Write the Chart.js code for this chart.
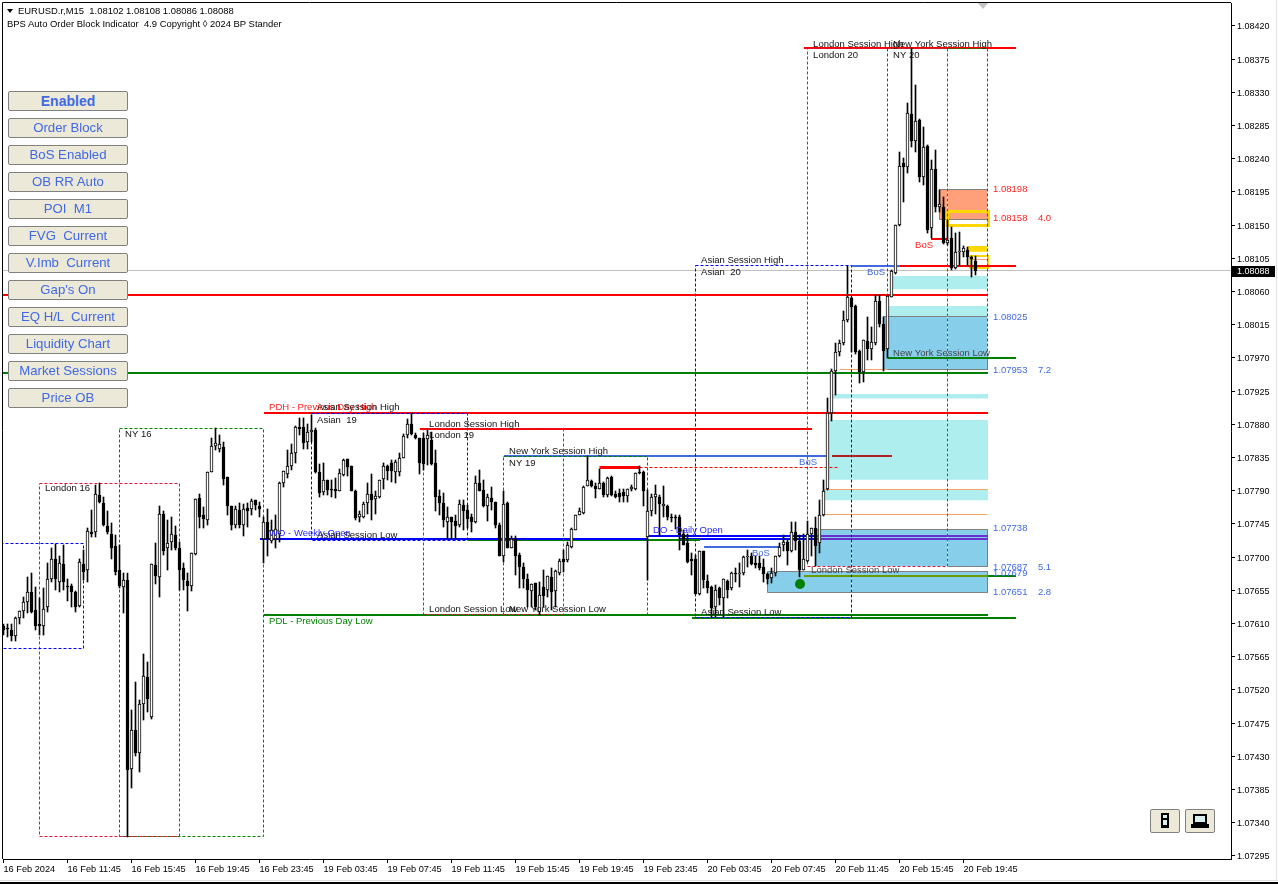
<!DOCTYPE html>
<html>
<head>
<meta charset="utf-8">
<title>EURUSD.r,M15</title>
<script src="https://cdn.jsdelivr.net/npm/chart.js@4"></script>
<style>
  html, body { margin: 0; padding: 0; background: #fff; overflow: hidden; }
  #wrap { position: relative; width: 1278px; height: 884px; font-family: "Liberation Sans", Arial, sans-serif; }
  #mt4 { position: absolute; left: 0; top: 0; display: block; }
  .head { position: absolute; left: 7px; font-size: 9.45px; line-height: 12px; color: #000; white-space: pre; }
  .btn { position: absolute; left: 8px; width: 118px; height: 18px; line-height: 18px; background: #ece9d8; border: 1px solid #808080;
         border-radius: 2px; text-align: center; color: #4169e1; font-size: 13.2px; white-space: pre; }
  .tool { position: absolute; top: 809px; width: 28px; height: 22px; background: #ece9d8; border: 1px solid #808080; border-radius: 2px; }
  .tool div { position: absolute; background: #000; }
  .tool div.w { background: #d8f0f0; }
</style>
</head>
<body>
<div id="wrap">
  <canvas id="mt4" width="1278" height="884"></canvas>
  <div class="head" style="top:5px;left:18px">EURUSD.r,M15  1.08102 1.08108 1.08086 1.08088</div>
  <div style="position:absolute;left:7px;top:9px;border-left:3px solid transparent;border-right:3px solid transparent;border-top:4px solid #000"></div>
  <div class="head" style="top:18px">BPS Auto Order Block Indicator  4.9 Copyright ◊ 2024 BP Stander</div>
  <div style="position:absolute;left:978px;top:3px;border-left:5px solid transparent;border-right:5px solid transparent;border-top:6px solid #c4c4c4"></div>
  <div id="buttons"></div>
  <div class="tool" style="left:1150px">
    <div style="left:10px;top:3px;width:8px;height:15px"></div>
    <div class="w" style="left:12px;top:5px;width:4px;height:3px"></div>
    <div class="w" style="left:12px;top:10px;width:4px;height:5px"></div>
  </div>
  <div class="tool" style="left:1185px">
    <div style="left:7px;top:4px;width:14px;height:10px"></div>
    <div class="w" style="left:9px;top:6px;width:10px;height:6px"></div>
    <div style="left:5px;top:14px;width:18px;height:4px"></div>
  </div>
  <div style="position:absolute;left:0;top:880px;width:1278px;height:1px;background:#e2e2e2"></div>
  <div style="position:absolute;left:0;top:882px;width:1278px;height:2px;background:#000"></div>
  <div style="position:absolute;left:1276px;top:0;width:1px;height:881px;background:#e2e2e2"></div>
</div>

<script>
// prices are in points (1 point = 0.00001), stored above 1.07000
const base = 107000;
const opens = [
  607,604,601,593,617,627,639,653,629,609, 607,632,671,697,667,691,661,661,653,634,
  691,682,734,734,784,774,742,732,715,682, 659,669,413,466,434,501,537,483,690,673,
  758,712,720,730,713,685,668,661,704,780, 757,751,816,851,846,849,808,770,743,764,
  744,766,765,777,770,724,747,722,724,732, 800,813,823,841,877,876,856,869,872,815,
  788,805,793,793,790,811,833,823,790,754, 754,773,786,779,781,806,823,828,816,816,
  835,865,881,866,861,862,860,859,827,783, 774,748,755,749,743,771,764,755,748,800,
  791,769,780,775,743,701,774,713,724,703, 686,671,654,665,626,660,656,673,654,678,
  698,696,714,737,757,760,796,803,796,793, 800,784,808,786,787,788,783,792,793,816,
  816,728,763,782,782,769,769,755,755,755, 732,719,697,697,650,708,668,659,632,658,
  645,668,658,679,677,678,700,701,692,692, 686,677,672,679,701,717,721,709,734,722,
  682,695,731,739,719,757,792,895,952,978, 990,1021,1051,1040,979,951,993,982,990,1047,
  1016,982,1053,1085,1150,1234,1229,1300,1264,1292, 1215,1257,1146,1226,1174,1174,1126,1132,1092,1113,
  1113,1117,1107,1102
].map(v => base + v);
const highs = [
  610,609,610,619,627,646,673,679,660,644, 658,692,712,718,701,716,671,664,654,697,
  710,739,764,798,800,782,762,746,730,716, 679,679,493,531,506,569,558,691,719,770,
  762,750,754,742,721,692,678,705,779,786, 768,816,861,875,866,856,809,770,769,773,
  772,773,779,778,775,754,765,750,757,802, 817,845,854,878,889,888,880,893,875,826,
  827,805,805,807,820,833,833,823,791,762, 775,800,813,789,804,828,825,832,832,841,
  867,887,895,868,862,868,872,870,845,791, 787,768,755,757,777,777,771,759,810,818,
  805,786,795,775,746,790,775,729,729,705, 692,677,664,665,667,682,674,685,682,697,
  710,721,739,757,766,796,837,805,800,820, 802,809,810,789,793,793,793,798,814,823,
  817,791,786,798,784,796,771,759,757,757, 737,732,705,703,709,709,676,661,662,660,
  671,669,680,685,692,701,710,705,701,701, 698,679,685,701,719,730,723,748,748,730,
  731,749,739,754,777,804,916,955,990,994, 1034,1094,1052,1042,981,994,1025,1012,1055,1055,
  1025,1056,1089,1150,1249,1241,1315,1390,1340,1294, 1283,1259,1238,1252,1197,1188,1157,1147,1139,1141,
  1122,1120,1108,1108
].map(v => base + v);
const lows = [
  594,592,587,587,609,617,624,624,601,594, 594,626,667,655,653,655,640,633,626,632,
  669,667,728,728,773,742,732,697,676,658, 624,321,387,430,409,479,490,480,664,646,
  703,682,710,710,655,655,627,654,703,739, 739,743,816,845,843,798,757,737,739,739,
  729,741,757,764,755,692,701,719,712,720, 795,807,818,827,866,847,847,856,814,782,
  784,784,782,780,789,810,810,789,750,747, 753,759,750,759,780,793,805,802,800,810,
  835,861,866,860,813,818,825,825,762,757, 741,725,724,724,741,737,739,734,746,789,
  768,749,764,739,701,694,712,713,676,658, 658,633,633,629,621,633,646,628,633,676,
  680,694,713,737,757,759,796,795,780,792, 782,782,783,780,775,775,775,789,791,813,
  769,669,756,759,729,755,750,748,738,710, 716,692,676,650,649,658,651,619,619,635,
  619,645,655,667,659,676,687,689,685,682, 667,664,665,674,700,709,689,707,710,673,
  682,694,701,688,706,756,791,884,920,972, 987,1019,978,975,936,937,967,967,988,1012,
  953,970,1052,1084,1149,1181,1221,1256,1249,1208, 1204,1139,1132,1168,1168,1124,1123,1089,1091,1094,
  1107,1094,1080,1082
].map(v => base + v);
const closes = [
  601,602,593,618,627,639,653,626,607,607, 630,671,698,671,692,667,659,653,633,693,
  680,735,731,785,775,743,734,713,680,661, 669,412,466,434,501,539,508,691,675,758,
  709,719,731,712,683,669,661,705,779,755, 752,815,851,855,854,806,770,743,765,743,
  765,763,776,771,765,747,724,737,738,801, 817,823,841,876,874,855,869,873,815,787,
  805,791,792,790,814,832,822,790,753,758, 772,786,778,783,804,823,817,817,829,835,
  864,881,867,861,827,826,866,826,782,773, 750,755,748,742,772,763,752,747,800,789,
  769,782,775,743,701,772,712,724,701,686, 670,655,664,633,649,647,674,653,681,695,
  694,716,738,757,762,795,804,796,792,800, 784,807,784,782,782,783,793,795,814,814,
  790,762,781,785,772,772,754,754,753,730, 716,694,695,650,708,669,658,631,656,645,
  670,656,678,677,679,700,701,691,689,685, 677,670,679,701,714,720,709,734,722,682,
  697,731,739,715,757,790,895,952,978,990, 1021,1052,1039,978,951,994,982,991,1047,1016,
  979,1054,1088,1150,1230,1229,1302,1264,1291,1215, 1256,1143,1226,1174,1178,1126,1130,1092,1113,1115,
  1119,1107,1104,1088
].map(v => base + v);

const yTickLabels = ["1.08420","1.08375","1.08330","1.08285","1.08240","1.08195","1.08150","1.08105","1.08060","1.08015",
  "1.07970","1.07925","1.07880","1.07835","1.07790","1.07745","1.07700","1.07655","1.07610","1.07565",
  "1.07520","1.07475","1.07430","1.07385","1.07340","1.07295"];
const xTickBars = [0,16,32,48,64,80,96,112,128,144,160,176,192,208,224,240];
const xTickLabels = ["16 Feb 2024","16 Feb 11:45","16 Feb 15:45","16 Feb 19:45","16 Feb 23:45","19 Feb 03:45","19 Feb 07:45","19 Feb 11:45",
  "19 Feb 15:45","19 Feb 19:45","19 Feb 23:45","20 Feb 03:45","20 Feb 07:45","20 Feb 11:45","20 Feb 15:45","20 Feb 19:45"];
const lastPrice = 108088;
const buttonNames = ["Enabled","Order Block","BoS Enabled","OB RR Auto","POI  M1","FVG  Current","V.Imb  Current","Gap's On","EQ H/L  Current","Liquidity Chart","Market Sessions","Price OB"];

// session boxes: first bar, last bar, low, high, colour
const sessions = [
  [-2, 20, 107576, 107718, "#0000ff"],
  [9, 44, 107321, 107800, "#dc143c"],
  [29, 65, 107321, 107875, "#008000"],
  [77, 116, 107723, 107895, "#0000ff"],
  [105, 140, 107622, 107874, "#dc143c"],
  [125, 161, 107622, 107837, "#008000"],
  [173, 212, 107618, 108095, "#0000ff"],
  [201, 236, 107688, 108390, "#dc143c"],
  [221, 246, 107970, 108390, "#008000"]
];
// levels: first bar, last bar, price, colour, width, dashed
const levels = [
  [-2, 246, 108055, "#ff0000", 2, false],
  [-2, 246, 107950, "#008000", 2, false],
  [65, 246, 107895, "#ff0000", 2, false],
  [65, 246, 107622, "#008000", 2, false],
  [172, 253, 107618, "#008000", 2, false],
  [104, 202, 107874, "#ff0000", 2, false],
  [125, 206, 107837, "#4169e1", 2, false],
  [207, 222, 107837, "#b22222", 2, false],
  [149, 159, 107821, "#ff0000", 3, false],
  [159, 209, 107821, "#ff0000", 1, true],
  [64, 161, 107725, "#0000ff", 2, false],
  [116, 174, 107723, "#008000", 2, false],
  [161, 203, 107729, "#0000ff", 2, false],
  [169, 203, 107725, "#0000ff", 2, false],
  [203, 246, 107729, "#6a2fd0", 2, false],
  [203, 246, 107725, "#6a2fd0", 2, false],
  [205, 246, 107792, "#f4a460", 1, false],
  [205, 246, 107758, "#f4a460", 1, false],
  [209, 221, 107954, "#f4a460", 1, false],
  [221, 253, 107970, "#008000", 2, false],
  [212, 224, 108095, "#4169e1", 2, false],
  [224, 253, 108095, "#ff0000", 2, false],
  [200, 253, 108390, "#ff0000", 2, false],
  [232, 236, 108131, "#ff0000", 2, false],
  [175, 194, 107714, "#4169e1", 2, false],
  [200, 246, 107675, "#6b9b00", 2, false],
  [246, 253, 107675, "#008000", 2, false],
  [242, 246, 108104, "#ffa07a", 1, false],
  [-2, 308, lastPrice, "#c0c0c0", 1, false]
];
// zones: first bar, last bar, low, high, colour, outlined
const zones = [
  [222.4, 246, 108063, 108081, "#afeeee", false],
  [221, 246, 108026, 108040, "#afeeee", false],
  [207.4, 246, 107915, 107921, "#afeeee", false],
  [206.4, 246, 107805, 107886, "#afeeee", false],
  [205, 246, 107777, 107792, "#afeeee", false],
  [220, 246, 107954, 108026, "#87ceeb", true],
  [203, 246, 107688, 107738, "#87ceeb", true],
  [191, 246, 107652, 107680, "#87ceeb", true],
  [234, 246, 108158, 108199, "#ffa07a", true],
  [241, 246, 108114, 108122, "#ffd700", false]
];
// yellow frames: first bar, last bar, low, high, width
const frames = [
  [236, 246.2, 108150, 108169, 3],
  [241.5, 246.2, 108092, 108108, 2]
];
const entryBar = 199;
const entryPrice = 107664;
// chart texts: bar, price, text, colour
const notes = [
  [202.4, 108397, "London Session High", "#111"],
  [222.4, 108397, "New York Session High", "#111"],
  [202.4, 108381, "London 20", "#111"],
  [222.4, 108381, "NY 20", "#111"],
  [247.4, 108200, "1.08198", "#ff2020"],
  [247.4, 108160, "1.08158", "#ff2020"],
  [258.6, 108160, "4.0", "#ff2020"],
  [227.9, 108124, "BoS", "#ff2020"],
  [174.4, 108103, "Asian Session High", "#111"],
  [174.4, 108087, "Asian  20", "#111"],
  [215.9, 108087, "BoS", "#4169e1"],
  [247.4, 108027, "1.08025", "#4169e1"],
  [222.4, 107978, "New York Session Low", "#444"],
  [247.4, 107954, "1.07953", "#4169e1"],
  [258.6, 107954, "7.2", "#4169e1"],
  [66.4, 107904, "PDH - Previous Day High", "#ff2020"],
  [78.4, 107904, "Asian Session High", "#111"],
  [78.4, 107887, "Asian  19", "#111"],
  [106.4, 107882, "London Session High", "#111"],
  [106.4, 107866, "London 19", "#111"],
  [30.4, 107868, "NY 16", "#111"],
  [10.4, 107794, "London 16", "#111"],
  [126.4, 107845, "New York Session High", "#111"],
  [126.4, 107829, "NY 19", "#111"],
  [198.9, 107830, "BoS", "#4169e1"],
  [162.4, 107737, "DO - Daily Open", "#2a2aff"],
  [66.4, 107733, "WO - Weekly Open", "#2a2aff"],
  [78.4, 107731, "Asian Session Low", "#111"],
  [247.4, 107740, "1.07738", "#4169e1"],
  [187.1, 107706, "BoS", "#4169e1"],
  [247.4, 107688, "1.07687", "#4169e1"],
  [258.6, 107688, "5.1", "#4169e1"],
  [247.4, 107680, "1.07679", "#4169e1"],
  [201.9, 107684, "London Session Low", "#444"],
  [247.4, 107653, "1.07651", "#4169e1"],
  [258.6, 107653, "2.8", "#4169e1"],
  [106.4, 107630, "London Session Low", "#111"],
  [126.4, 107630, "New York Session Low", "#111"],
  [174.4, 107626, "Asian Session Low", "#111"],
  [66.4, 107614, "PDL - Previous Day Low", "#008000"]
];

const uiFont = '"Liberation Sans", Arial, sans-serif';

buttonNames.forEach((name, i) => {
  const b = document.createElement("div");
  b.className = "btn";
  b.style.top = (91 + i * 27) + "px";
  if (i === 0) {
    b.style.fontWeight = "bold";
    b.style.fontSize = "14px";
  }
  b.textContent = name;
  document.getElementById("buttons").appendChild(b);
});

function lineSet(points, colour, width, dashed, order) {
  return {
    type: "line",
    data: points,
    borderColor: colour,
    borderWidth: width,
    borderDash: dashed ? [3, 2] : [],
    pointRadius: 0,
    fill: false,
    tension: 0,
    order: order
  };
}

function boxPoints(from, to, low, high) {
  return [{ x: from, y: high }, { x: to, y: high }, { x: to, y: low }, { x: from, y: low }, { x: from, y: high }];
}

const datasets = [];

zones.forEach((z) => {
  const d = lineSet([{ x: z[0], y: z[3] }, { x: z[1], y: z[3] }], "transparent", 0, false, 9);
  d.backgroundColor = z[4];
  d.fill = { target: { value: z[2] } };
  datasets.push(d);
  if (z[5]) datasets.push(lineSet(boxPoints(z[0], z[1], z[2], z[3]), "#808080", 1, false, 8));
});
frames.forEach((f) => {
  datasets.push(lineSet(boxPoints(f[0], f[1], f[2], f[3]), "#ffd700", f[4], false, 7));
});
levels.forEach((l) => {
  datasets.push(lineSet([{ x: l[0], y: l[2] }, { x: l[1], y: l[2] }], l[3], l[4], l[5], 6));
});
sessions.forEach((s) => {
  // white under the dashes, the gaps show white where a box crosses a zone
  datasets.push(lineSet(boxPoints(s[0], s[1], s[2], s[3]), "#fff", 1, false, 7.5));
  datasets.push(lineSet(boxPoints(s[0], s[1], s[2], s[3]), s[4], 1, true, 5));
});

datasets.push({
  type: "bar",
  data: highs.map((h, i) => ({ x: i, y: [lows[i], h] })),
  backgroundColor: "#000",
  borderWidth: 0,
  barThickness: 1,
  grouped: false,
  order: 3
});
datasets.push({
  type: "bar",
  data: opens.map((o, i) => ({ x: i, y: [o, closes[i]] })),
  backgroundColor: opens.map((o, i) => (closes[i] >= o ? "#fff" : "#000")),
  borderColor: "#000",
  borderWidth: 1,
  borderSkipped: false,
  barThickness: 3,
  grouped: false,
  order: 2
});
datasets.push({
  type: "line",
  data: [{ x: entryBar, y: entryPrice }],
  showLine: false,
  pointRadius: 5,
  pointBackgroundColor: "#008000",
  pointBorderWidth: 0,
  order: 1
});

// keeps one pixel lines and candles sharp, as the terminal draws them
const snapPixels = {
  id: "snapPixels",
  afterDatasetsUpdate(chart) {
    chart.getSortedVisibleDatasetMetas().forEach((meta) => {
      const w = meta.controller.getDataset().borderWidth;
      meta.data.forEach((el) => {
        if (meta.type === "bar") {
          el.y = Math.round(el.y);
          el.base = Math.round(el.base);
          if (el.y === el.base) el.base = el.y + 1;
        } else if (w % 2 === 1) {
          el.x = Math.floor(el.x) + 0.5;
          el.y = Math.floor(el.y) + 0.5;
        } else {
          el.x = Math.round(el.x);
          el.y = Math.round(el.y);
        }
      });
    });
  }
};

const terminalBits = {
  id: "terminalBits",
  afterDraw(chart) {
    const ctx = chart.ctx;
    const x = chart.scales.x;
    const y = chart.scales.y;
    const area = chart.chartArea;
    ctx.save();
    ctx.strokeStyle = "#000";
    ctx.lineWidth = 1;
    ctx.beginPath();
    ctx.moveTo(area.left - 0.5, area.bottom);
    ctx.lineTo(area.left - 0.5, area.top - 0.5);
    ctx.lineTo(area.right, area.top - 0.5);
    ctx.stroke();
    ctx.beginPath();
    ctx.rect(area.left, area.top, area.right - area.left, area.bottom - area.top);
    ctx.clip();
    ctx.font = "9.5px " + uiFont;
    ctx.textBaseline = "middle";
    ctx.textAlign = "left";
    notes.forEach((n) => {
      ctx.fillStyle = n[3];
      ctx.fillText(n[2], x.getPixelForValue(n[0]), y.getPixelForValue(n[1]) + 1);
    });
    ctx.restore();
    // current price tag
    const py = Math.round(y.getPixelForValue(lastPrice));
    ctx.fillStyle = "#000";
    ctx.fillRect(area.right + 1, py - 5, 43, 11);
    ctx.fillStyle = "#fff";
    ctx.font = "9px " + uiFont;
    ctx.textBaseline = "middle";
    ctx.fillText((lastPrice / 100000).toFixed(5), area.right + 6, py + 1);
  }
};

new Chart(document.getElementById("mt4"), {
  type: "bar",
  data: { datasets: datasets },
  plugins: [snapPixels, terminalBits],
  options: {
    responsive: false,
    animation: false,
    events: [],
    layout: { autoPadding: false, padding: { left: 3, top: 3, right: 0, bottom: 0 } },
    plugins: { legend: { display: false }, tooltip: { enabled: false } },
    scales: {
      x: {
        type: "linear",
        min: -0.125,
        max: 306.875,
        offset: false,
        grid: { display: true, drawOnChartArea: false, color: "#000", tickLength: 4, offset: false },
        border: { color: "#000" },
        afterFit(scale) { scale.height = 25; scale.paddingLeft = 0; scale.paddingRight = 0; },
        afterBuildTicks(scale) { scale.ticks = xTickBars.map((b) => ({ value: b })); },
        ticks: {
          autoSkip: false,
          maxRotation: 0,
          align: "start",
          padding: 1,
          color: "#000",
          font: { family: uiFont, size: 9.2 },
          callback: (v) => xTickLabels[xTickBars.indexOf(v)]
        }
      },
      y: {
        type: "linear",
        position: "right",
        min: 107290.9,
        max: 108451.1,
        grid: { display: true, drawOnChartArea: false, color: "#000", tickLength: 4 },
        border: { color: "#000" },
        afterFit(scale) { scale.width = 47; scale.paddingTop = 0; scale.paddingBottom = 0; },
        afterBuildTicks(scale) { scale.ticks = yTickLabels.map((t) => ({ value: Math.round(parseFloat(t) * 100000) })); },
        ticks: {
          autoSkip: false,
          padding: 2,
          labelOffset: 1,
          color: "#000",
          font: { family: uiFont, size: 9 },
          callback: (v) => (v / 100000).toFixed(5)
        }
      }
    }
  }
});
</script>
</body>
</html>
